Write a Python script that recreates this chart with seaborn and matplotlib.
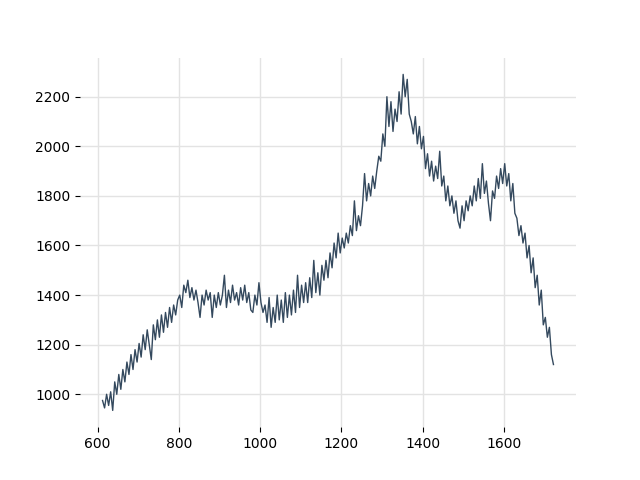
import numpy as np
import pandas as pd
import matplotlib
matplotlib.use("Agg")
import matplotlib.pyplot as plt
import seaborn as sns

x_start = 612
x_step = 5
values = [
    975, 945, 1000, 955, 1010, 935, 1050, 1000, 1080, 1020, 1100, 1050, 1130, 1080, 1160, 1100, 1180, 1130, 1205, 1150,
    1240, 1180, 1260, 1200, 1140, 1280, 1220, 1300, 1230, 1320, 1250, 1330, 1270, 1350, 1290, 1360, 1320, 1380, 1400, 1350,
    1440, 1410, 1460, 1390, 1430, 1380, 1420, 1370, 1310, 1400, 1360, 1420, 1380, 1410, 1310, 1400, 1350, 1410, 1360, 1400,
    1480, 1350, 1420, 1370, 1440, 1380, 1410, 1360, 1430, 1380, 1440, 1370, 1410, 1340, 1330, 1400, 1360, 1450, 1370, 1330,
    1360, 1290, 1390, 1270, 1350, 1290, 1400, 1300, 1380, 1290, 1410, 1310, 1400, 1320, 1420, 1330, 1480, 1350, 1440, 1370,
    1450, 1370, 1470, 1390, 1540, 1410, 1490, 1400, 1520, 1460, 1540, 1470, 1570, 1510, 1610, 1550, 1650, 1570, 1630, 1590,
    1650, 1610, 1680, 1640, 1780, 1660, 1720, 1680, 1760, 1890, 1780, 1850, 1800, 1880, 1830, 1900, 1960, 1940, 2050, 2000,
    2200, 2080, 2180, 2060, 2150, 2100, 2220, 2130, 2290, 2200, 2270, 2130, 2100, 2050, 2120, 2010, 2080, 1990, 2040, 1910,
    1970, 1880, 1940, 1860, 1920, 1870, 1980, 1840, 1880, 1780, 1840, 1760, 1800, 1730, 1780, 1700, 1670, 1760, 1700, 1780,
    1740, 1800, 1760, 1840, 1780, 1870, 1790, 1930, 1810, 1860, 1770, 1700, 1820, 1790, 1880, 1830, 1910, 1850, 1930, 1840,
    1890, 1780, 1850, 1730, 1710, 1640, 1680, 1610, 1650, 1550, 1600, 1490, 1550, 1430, 1480, 1360, 1420, 1280, 1310, 1230,
    1270, 1160, 1120,
]
xs = x_start + x_step * np.arange(len(values))
df = pd.DataFrame({"x": xs, "y": values})

fig, ax = plt.subplots(figsize=(6.4, 4.8), dpi=100)
sns.lineplot(data=df, x="x", y="y", ax=ax, color="#34495e", linewidth=1)
ax.set_xlabel("")
ax.set_ylabel("")
for s in ax.spines.values():
    s.set_visible(False)
ax.set_xticks([600, 800, 1000, 1200, 1400, 1600])
ax.set_yticks([1000, 1200, 1400, 1600, 1800, 2000, 2200])
ax.grid(True, color="#e3e3e3", linewidth=1)
ax.set_axisbelow(True)
fig.savefig("out.png", dpi=100)
